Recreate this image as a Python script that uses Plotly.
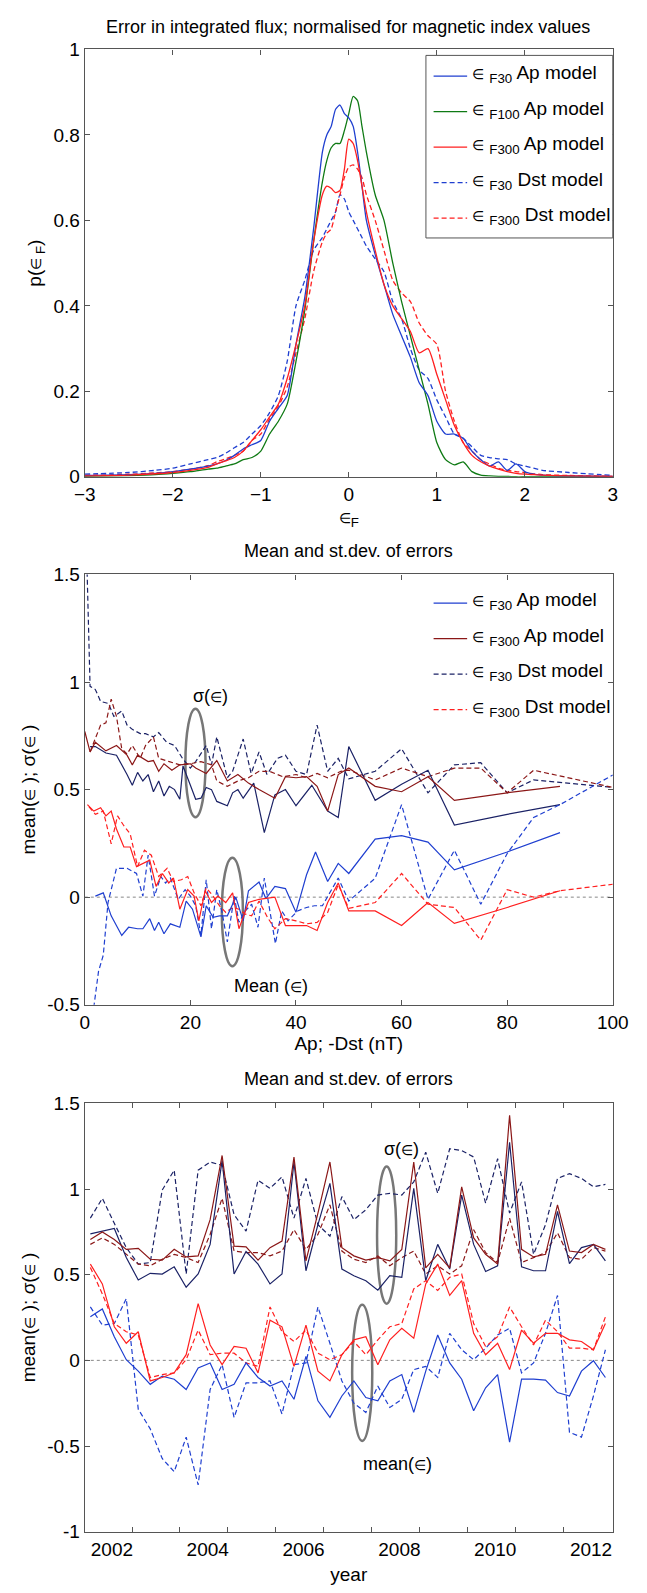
import plotly.graph_objects as go

W, H = 647, 1593
FONT = "Liberation Sans, Arial, Helvetica, sans-serif"

def px(x):
    return x / W

def py(y):
    return 1 - y / H

# ---------------- colours ----------------
BLUE = "#1f3fd0"
NAVY = "#1b2266"
DRED = "#8b1717"
RED = "#ff1f1f"
GREEN = "#0f7a14"
GRAY = "#777777"
AX = "#555555"

EPS = "<span style='font-size:14px'>∈</span>"

# ---------------- panel 1 data (pdf of errors) ----------------
eps_grid = [-3.0, -2.5, -2.2, -2.0, -1.8, -1.6, -1.5, -1.4, -1.3, -1.2, -1.1, -1.0, -0.9, -0.8,
            -0.7, -0.6, -0.5, -0.4, -0.3, -0.25, -0.2, -0.15, -0.1, -0.05, 0.0, 0.05, 0.1, 0.15,
            0.2, 0.3, 0.4, 0.5, 0.6, 0.7, 0.8, 0.9, 1.0, 1.1, 1.2, 1.3, 1.4, 1.5, 1.6, 1.7, 1.8,
            1.9, 2.0, 2.1, 2.2, 2.5, 3.0]
p_f30_ap = [0.003, 0.005, 0.008, 0.012, 0.018, 0.025, 0.03, 0.038, 0.05, 0.065, 0.075, 0.085, 0.13, 0.16,
            0.19, 0.31, 0.42, 0.58, 0.76, 0.80, 0.82, 0.86, 0.87, 0.85, 0.84, 0.82, 0.76, 0.68,
            0.60, 0.52, 0.45, 0.38, 0.33, 0.28, 0.22, 0.19, 0.13, 0.10, 0.10, 0.09, 0.06, 0.04, 0.025, 0.035, 0.015,
            0.03, 0.012, 0.006, 0.004, 0.002, 0.001]
p_f100_ap = [0.001, 0.003, 0.005, 0.008, 0.012, 0.018, 0.02, 0.025, 0.03, 0.04, 0.045, 0.06, 0.10, 0.13,
             0.17, 0.27, 0.39, 0.55, 0.69, 0.74, 0.77, 0.78, 0.78, 0.81, 0.85, 0.89, 0.88, 0.82,
             0.76, 0.66, 0.60, 0.50, 0.41, 0.33, 0.25, 0.17, 0.08, 0.04, 0.028, 0.035, 0.012, 0.004, 0.002, 0.001, 0.001,
             0.0, 0.0, 0.0, 0.0, 0.0, 0.0]
p_f300_ap = [0.002, 0.004, 0.007, 0.01, 0.015, 0.022, 0.03, 0.037, 0.045, 0.06, 0.085, 0.11, 0.14, 0.17,
             0.23, 0.31, 0.40, 0.55, 0.66, 0.68, 0.675, 0.665, 0.67, 0.72, 0.79, 0.78, 0.74, 0.68,
             0.62, 0.53, 0.45, 0.40, 0.37, 0.34, 0.29, 0.30, 0.24, 0.18, 0.12, 0.08, 0.05, 0.035, 0.025, 0.018, 0.012,
             0.008, 0.006, 0.005, 0.004, 0.002, 0.001]
p_f30_dst = [0.006, 0.01, 0.015, 0.02, 0.03, 0.04, 0.045, 0.055, 0.068, 0.08, 0.10, 0.12, 0.15, 0.19,
             0.27, 0.40, 0.46, 0.53, 0.56, 0.58, 0.60, 0.62, 0.66, 0.65, 0.62, 0.60, 0.58, 0.56,
             0.54, 0.51, 0.48, 0.41, 0.37, 0.30, 0.25, 0.23, 0.18, 0.14, 0.10, 0.09, 0.07, 0.05, 0.045, 0.042, 0.04,
             0.03, 0.025, 0.02, 0.015, 0.01, 0.003]
p_f300_dst = [0.003, 0.006, 0.009, 0.012, 0.018, 0.026, 0.035, 0.042, 0.05, 0.06, 0.085, 0.10, 0.135, 0.165,
              0.21, 0.29, 0.37, 0.48, 0.55, 0.57, 0.58, 0.62, 0.66, 0.70, 0.725, 0.73, 0.72, 0.70,
              0.66, 0.60, 0.53, 0.46, 0.43, 0.41, 0.36, 0.33, 0.31, 0.20, 0.13, 0.08, 0.06, 0.04, 0.03, 0.02, 0.015,
              0.012, 0.01, 0.007, 0.005, 0.003, 0.001]

# ---------------- panel 2 data (vs Ap / -Dst) ----------------
x_sd30_ap = [1, 2, 4, 6, 8, 9, 10, 11, 12, 13, 14, 15, 16, 17, 18, 18.6, 20, 21, 22, 23, 24, 25, 27, 28, 29, 30,
             32, 34, 36, 38, 40, 42, 43, 46, 48, 50, 55, 60, 65, 70, 80, 90]
sd30_ap = [0.70, 0.70, 0.67, 0.66, 0.57, 0.52, 0.58, 0.54, 0.57, 0.49, 0.54, 0.47, 0.515, 0.50, 0.455, 0.61,
           0.52, 0.455, 0.46, 0.51, 0.50, 0.445, 0.425, 0.485, 0.50, 0.46, 0.53, 0.30, 0.475, 0.50, 0.425, 0.49,
           0.52, 0.40, 0.37, 0.70, 0.45, 0.525, 0.59, 0.335, 0.385, 0.43]
x_sd300_ap = [0, 1, 2, 4, 6, 8, 9, 10, 12, 13, 14, 15, 16.5, 18, 20, 21, 23, 25, 27, 29, 31, 33, 36, 38, 40,
              42, 44, 46, 48, 50, 55, 60, 65, 70, 80, 90]
sd300_ap = [0.77, 0.675, 0.72, 0.68, 0.705, 0.66, 0.615, 0.66, 0.63, 0.635, 0.585, 0.62, 0.59, 0.615, 0.62,
            0.60, 0.575, 0.635, 0.54, 0.57, 0.53, 0.50, 0.46, 0.56, 0.555, 0.56, 0.515, 0.40, 0.57, 0.60, 0.515,
            0.49, 0.56, 0.45, 0.485, 0.515]
x_sd30_dst = [0.4, 1, 2, 3, 4.5, 5.5, 7, 8, 9, 10.5, 11.5, 13, 14, 15.5, 17, 18.5, 20, 21, 23, 24, 25, 27, 28,
              30, 31.5, 33, 34.5, 36.5, 38, 40, 42, 44, 46, 48, 50, 55, 60, 65, 70, 75, 80, 85, 100]
sd30_dst = [1.55, 0.98, 0.965, 0.91, 0.90, 0.84, 0.865, 0.80, 0.78, 0.76, 0.76, 0.745, 0.765, 0.72, 0.705,
            0.645, 0.60, 0.63, 0.705, 0.615, 0.745, 0.555, 0.585, 0.735, 0.575, 0.675, 0.57, 0.645, 0.66, 0.585,
            0.57, 0.80, 0.585, 0.645, 0.55, 0.585, 0.69, 0.485, 0.615, 0.625, 0.485, 0.545, 0.51]
x_sd300_dst = [1, 2, 3, 4, 5, 6, 7, 8, 9, 10.5, 11.5, 13, 14, 16, 18, 20, 22, 24, 25, 27, 29, 31, 33, 35, 37.5,
               40, 42, 44, 46, 48.5, 50, 55, 60, 65, 70, 75, 80, 85, 100]
sd300_dst = [0.675, 0.735, 0.80, 0.81, 0.92, 0.84, 0.69, 0.665, 0.705, 0.645, 0.705, 0.745, 0.645, 0.63, 0.615,
             0.62, 0.63, 0.615, 0.54, 0.515, 0.54, 0.555, 0.585, 0.585, 0.56, 0.57, 0.555, 0.575, 0.555, 0.585,
             0.59, 0.545, 0.60, 0.56, 0.60, 0.60, 0.485, 0.59, 0.51]
x_mn30_ap = [2, 3.5, 5, 7, 8.3, 10, 11, 12.3, 13.2, 14, 15, 16.2, 18, 19.2, 20.4, 22, 23, 24.3, 25.5, 27, 28.6,
             30, 31, 33, 34.3, 36, 38, 40, 42, 43.7, 46, 48, 50, 55, 60, 65, 70, 80, 90]
mn30_ap = [0.005, 0.02, -0.087, -0.178, -0.14, -0.147, -0.147, -0.10, -0.155, -0.117, -0.17, -0.124, -0.14,
           -0.018, -0.056, -0.185, -0.04, -0.094, -0.087, -0.087, 0.0, -0.11, 0.03, 0.07, -0.007, 0.05, 0.04,
           -0.07, 0.104, 0.21, 0.073, 0.157, 0.11, 0.27, 0.286, 0.256, 0.127, 0.21, 0.30]
x_mn30_dst = [1.5, 2.6, 3.5, 4.4, 6, 8, 9.8, 11, 12, 13.2, 14.4, 15.3, 16.2, 17.7, 19, 20, 21, 22, 23, 24, 25,
              26, 27, 28.3, 29.2, 30.4, 31.6, 32.8, 34, 35.2, 36.1, 37.3, 38.5, 40.3, 42, 43.5, 45, 48, 50, 55,
              60, 65, 70, 75, 80, 85, 90, 100]
mn30_dst = [-0.55, -0.345, -0.27, -0.025, 0.134, 0.134, 0.11, 0.005, 0.195, 0.005, 0.096, 0.066, 0.089, -0.01,
            0.035, 0.005, -0.04, -0.178, 0.081, -0.147, 0.035, -0.071, -0.208, 0.005, -0.117, -0.064, -0.033,
            -0.14, 0.089, -0.094, -0.216, -0.064, -0.11, -0.064, -0.048, -0.04, -0.04, 0.089, -0.018, 0.088,
            0.43, -0.01, 0.218, -0.033, 0.203, 0.37, 0.43, 0.568]
x_mn300_ap = [0.5, 1.7, 3, 4, 5, 6, 7.4, 8.6, 9.8, 11, 12.3, 13.5, 14.7, 15.9, 16.8, 18, 19.5, 20.7, 21.6, 22.8,
              24, 25.2, 26.7, 28, 29.2, 31, 33, 36, 38, 40, 42, 44, 46, 48, 50, 55, 60, 65, 70, 80, 90]
mn300_ap = [0.43, 0.40, 0.416, 0.378, 0.40, 0.317, 0.233, 0.233, 0.142, 0.157, 0.172, 0.05, 0.11, 0.066, 0.089,
            -0.056, 0.035, 0.005, -0.11, 0.03, -0.025, 0.005, -0.025, 0.02, -0.147, -0.025, -0.01, 0.0, -0.132,
            -0.132, -0.132, -0.155, -0.025, 0.066, -0.064, -0.064, -0.132, -0.025, -0.122, -0.048, 0.03]
x_mn300_dst = [0.8, 2, 3.5, 5, 6.2, 7.4, 8.6, 10, 11.3, 12.6, 14, 15.6, 16.8, 18.3, 19.5, 20.7, 22, 23, 24.3,
               25.5, 26.7, 28, 29.2, 30.4, 31.6, 33, 34.6, 36, 38, 40, 42, 44, 46, 48, 50, 55, 60, 65, 70, 75,
               80, 85, 90, 100]
mn300_dst = [0.42, 0.385, 0.40, 0.248, 0.378, 0.332, 0.294, 0.142, 0.218, 0.195, 0.096, 0.134, 0.073, 0.081,
             0.096, 0.02, -0.04, 0.043, 0.005, -0.04, -0.071, -0.048, -0.056, -0.079, -0.087, -0.018, -0.094,
             -0.147, -0.10, -0.11, -0.124, -0.117, -0.071, 0.058, -0.052, -0.025, 0.11, -0.033, -0.048, -0.20,
             0.035, 0.0, 0.03, 0.06]

# ---------------- panel 3 data (vs year, quarterly) ----------------
years = [2001.55, 2001.8, 2002.05, 2002.3, 2002.55, 2002.8, 2003.05, 2003.3, 2003.55, 2003.8, 2004.05, 2004.3,
         2004.55, 2004.8, 2005.05, 2005.3, 2005.55, 2005.8, 2006.05, 2006.3, 2006.55, 2006.8, 2007.05, 2007.3,
         2007.55, 2007.8, 2008.05, 2008.3, 2008.55, 2008.8, 2009.05, 2009.3, 2009.55, 2009.8, 2010.05, 2010.3,
         2010.55, 2010.8, 2011.05, 2011.3, 2011.55, 2011.8, 2012.05, 2012.3]
y_sd30_ap = [0.738, 0.754, 0.77, 0.60, 0.469, 0.508, 0.504, 0.546, 0.427, 0.504, 0.677, 1.167, 0.504, 0.635,
             0.562, 0.446, 0.504, 1.158, 0.523, 0.792, 1.033, 0.533, 0.494, 0.465, 0.41, 0.494, 0.485, 1.004,
             0.465, 0.677, 0.533, 0.965, 0.677, 0.519, 0.552, 1.273, 0.546, 0.523, 0.523, 0.869, 0.565, 0.658,
             0.677, 0.581]
y_sd300_ap = [0.706, 0.75, 0.706, 0.648, 0.654, 0.59, 0.585, 0.648, 0.604, 0.61, 0.821, 1.196, 0.667, 0.662,
              0.585, 0.658, 0.696, 1.187, 0.581, 0.86, 1.158, 0.658, 0.61, 0.585, 0.60, 0.581, 0.648, 1.158,
              0.54, 0.619, 0.54, 1.013, 0.715, 0.619, 0.562, 1.43, 0.648, 0.604, 0.619, 0.908, 0.638, 0.629,
              0.677, 0.648]
y_sd30_dst = [0.83, 0.946, 0.80, 0.658, 0.562, 0.571, 0.994, 1.11, 0.504, 1.11, 1.158, 1.138, 0.85, 0.754,
              1.052, 1.004, 1.071, 0.83, 1.062, 0.792, 0.725, 0.956, 0.821, 0.879, 0.965, 0.975, 0.965, 1.042,
              1.215, 0.975, 1.235, 1.225, 1.187, 0.917, 1.177, 0.86, 1.042, 0.619, 0.792, 1.062, 1.09, 1.062,
              1.013, 1.027]
y_sd300_dst = [0.677, 0.715, 0.677, 0.619, 0.562, 0.552, 0.59, 0.619, 0.60, 0.571, 0.735, 0.946, 0.638, 0.629,
               0.629, 0.61, 0.638, 0.763, 0.648, 0.735, 0.908, 0.638, 0.59, 0.571, 0.61, 0.552, 0.60, 0.638,
               0.504, 0.552, 0.504, 0.552, 0.763, 0.629, 0.571, 0.83, 0.571, 0.60, 0.629, 0.744, 0.60, 0.59,
               0.658, 0.638]
y_mn30_ap = [0.254, 0.30, 0.138, 0.004, -0.063, -0.14, -0.092, -0.11, -0.17, -0.044, -0.015, -0.17, -0.14,
             -0.015, -0.10, -0.15, -0.12, -0.227, 0.023, -0.236, -0.333, -0.208, -0.12, -0.217, -0.236, -0.12,
             -0.083, -0.304, -0.063, 0.148, -0.015, -0.11, -0.294, -0.16, -0.083, -0.477, -0.11, -0.11, -0.115,
             -0.188, -0.208, -0.063, -0.002, -0.10]
y_mn300_ap = [0.562, 0.446, 0.196, 0.10, 0.167, -0.12, -0.10, -0.073, 0.033, 0.331, 0.09, -0.025, 0.081, 0.071,
              -0.073, 0.235, 0.196, -0.035, 0.206, -0.063, -0.12, 0.033, 0.12, 0.138, -0.025, 0.12, 0.187, 0.129,
              0.446, 0.562, 0.379, 0.465, 0.158, 0.033, 0.10, -0.054, 0.177, 0.10, 0.158, 0.158, 0.12, 0.11,
              0.062, 0.215]
y_mn30_dst = [0.312, 0.206, 0.215, 0.36, -0.285, -0.40, -0.573, -0.65, -0.448, -0.727, -0.17, -0.025, -0.333,
              -0.131, -0.131, -0.12, -0.313, -0.025, -0.015, 0.312, 0.10, -0.12, -0.25, -0.304, -0.15, -0.275,
              -0.227, -0.054, -0.035, -0.10, 0.158, 0.062, 0.004, 0.071, 0.148, 0.187, -0.073, -0.015, 0.158,
              0.379, -0.42, -0.448, -0.208, 0.062]
y_mn300_dst = [0.542, 0.388, 0.215, 0.167, 0.148, -0.10, -0.083, -0.073, 0.004, 0.177, 0.033, 0.042, 0.042,
               -0.015, -0.035, 0.312, 0.167, 0.11, 0.177, 0.042, 0.004, 0.033, 0.11, 0.033, 0.12, 0.196, 0.215,
               0.417, 0.465, 0.408, 0.485, 0.504, 0.215, 0.081, 0.138, 0.312, 0.196, 0.09, 0.235, 0.167, 0.071,
               0.071, 0.062, 0.254]

year_labels = [2002, 2004, 2006, 2008, 2010, 2012]
year_ticks = [2002.42, 2003.42, 2004.42, 2005.42, 2006.42, 2007.42, 2008.42, 2009.42, 2010.42, 2011.42]

DASH = "5px,3px"

fig = go.Figure()

def add(x, y, color, dash=None, ax="", width=1.2, smooth=False):
    line = dict(color=color, width=width)
    if dash:
        line["dash"] = dash
    if smooth:
        line["shape"] = "spline"
        line["smoothing"] = 0.6
    fig.add_trace(go.Scatter(x=x, y=y, mode="lines", line=line, showlegend=False,
                             xaxis="x" + ax, yaxis="y" + ax, hoverinfo="skip"))

# panel 1
add(eps_grid, p_f30_dst, BLUE, DASH, "", 1.3, True)
add(eps_grid, p_f300_dst, RED, DASH, "", 1.3, True)
add(eps_grid, p_f100_ap, GREEN, None, "", 1.3, True)
add(eps_grid, p_f30_ap, BLUE, None, "", 1.3, True)
add(eps_grid, p_f300_ap, RED, None, "", 1.3, True)

# panel 2
add(x_sd30_dst, sd30_dst, NAVY, DASH, "2")
add(x_sd300_dst, sd300_dst, DRED, DASH, "2")
add(x_sd30_ap, sd30_ap, NAVY, None, "2")
add(x_sd300_ap, sd300_ap, DRED, None, "2")
add(x_mn30_dst, mn30_dst, BLUE, DASH, "2")
add(x_mn300_dst, mn300_dst, RED, DASH, "2")
add(x_mn30_ap, mn30_ap, BLUE, None, "2")
add(x_mn300_ap, mn300_ap, RED, None, "2")

# panel 3
add(years, y_sd30_dst, NAVY, DASH, "3")
add(years, y_sd300_dst, DRED, DASH, "3")
add(years, y_sd30_ap, NAVY, None, "3")
add(years, y_sd300_ap, DRED, None, "3")
add(years, y_mn30_dst, BLUE, DASH, "3")
add(years, y_mn300_dst, RED, DASH, "3")
add(years, y_mn30_ap, BLUE, None, "3")
add(years, y_mn300_ap, RED, None, "3")

XDOM = [px(77), px(628)]
TICKFONT = dict(family=FONT, size=19, color="black")
TITLEFONT = dict(family=FONT, size=19, color="black")

def axis(**kw):
    base = dict(showline=True, linecolor=AX, linewidth=1.2, mirror="ticks", ticks="inside", ticklen=5,
                tickcolor=AX, tickwidth=1, showgrid=False, zeroline=False, tickfont=TICKFONT, fixedrange=True)
    base.update(kw)
    return base

layout = dict(
    width=W, height=H, margin=dict(l=0, r=0, t=0, b=0),
    paper_bgcolor="white", plot_bgcolor="white", showlegend=False,
    font=dict(family=FONT, size=18, color="black"),
    xaxis=axis(domain=XDOM, anchor="y", range=[-3, 3], tickvals=[-3, -2, -1, 0, 1, 2, 3],
               title=dict(text=EPS + "<sub>F</sub>", font=TITLEFONT, standoff=6)),
    yaxis=axis(domain=[py(473), py(40)], anchor="x", range=[0, 1],
               tickvals=[0, 0.2, 0.4, 0.6, 0.8, 1], ticktext=["0", "0.2", "0.4", "0.6", "0.8", "1"],
               title=dict(text="p(" + EPS + "<sub> F</sub>)", font=TITLEFONT, standoff=6)),
    xaxis2=axis(domain=XDOM, anchor="y2", range=[0, 100], tickvals=[0, 20, 40, 60, 80, 100],
                title=dict(text="Ap; -Dst (nT)", font=TITLEFONT, standoff=4)),
    yaxis2=axis(domain=[py(1008), py(572)], anchor="x2", range=[-0.5, 1.5],
                tickvals=[-0.5, 0, 0.5, 1, 1.5], ticktext=["-0.5", "0", "0.5", "1", "1.5"],
                title=dict(text="mean(" + EPS + " ); σ(" + EPS + " )", font=TITLEFONT, standoff=6)),
    xaxis3=axis(domain=XDOM, anchor="y3", range=[2001.434, 2012.454], tickvals=year_labels,
                ticktext=[str(v) for v in year_labels], ticks="",
                minor=dict(tickmode="array", tickvals=year_ticks, ticks="inside", ticklen=5, tickcolor=AX),
                title=dict(text="year", font=TITLEFONT, standoff=9)),
    yaxis3=axis(domain=[py(1542), py(1108)], anchor="x3", range=[-1, 1.5],
                tickvals=[-1, -0.5, 0, 0.5, 1, 1.5], ticktext=["-1", "-0.5", "0", "0.5", "1", "1.5"],
                title=dict(text="mean(" + EPS + " ); σ(" + EPS + " )", font=TITLEFONT, standoff=6)),
)

shapes = []
annotations = []

def text(x, y, s, size=18, angle=0, xanchor="center", yanchor="middle"):
    annotations.append(dict(x=px(x), y=py(y), xref="paper", yref="paper", text=s, showarrow=False,
                            font=dict(family=FONT, size=size, color="black"), textangle=angle,
                            xanchor=xanchor, yanchor=yanchor))

# titles
text(352, 17, "Error in integrated flux; normalised for magnetic index values", 18)
text(352, 548, "Mean and st.dev. of errors", 18)
text(352, 1083, "Mean and st.dev. of errors", 18)

# zero reference lines
for ax in ["2", "3"]:
    shapes.append(dict(type="line", xref="x" + ax + " domain", yref="y" + ax, x0=0, x1=1, y0=0, y1=0,
                       line=dict(color="#888888", width=1, dash="dot"), layer="below"))

# ellipses
for (x0, x1, y0, y1) in [(182, 203, 708, 818), (220, 242, 859, 969), (382, 402, 1172, 1311), (356, 377, 1312, 1450)]:
    shapes.append(dict(type="circle", xref="paper", yref="paper", x0=px(x0), x1=px(x1), y0=py(y1), y1=py(y0),
                       line=dict(color=GRAY, width=2.5), layer="below"))
text(208, 695, "σ(" + EPS + ")", 18)
text(271, 989, "Mean (" + EPS + ")", 18)
text(408, 1154, "σ(" + EPS + ")", 18)
text(403, 1473, "mean(" + EPS + ")", 18)

# legend panel 1
shapes.append(dict(type="rect", xref="paper", yref="paper", x0=px(433), x1=px(628), y0=py(231), y1=py(46),
                   line=dict(color=AX, width=1), fillcolor="white", layer="above"))
leg1 = [(BLUE, None, "F30", "Ap model"), (GREEN, None, "F100", "Ap model"), (RED, None, "F300", "Ap model"),
        (BLUE, "dash", "F30", "Dst model"), (RED, "dash", "F300", "Dst model")]
for i, (c, d, sub, lab) in enumerate(leg1):
    yy = 62 + 36 * i
    ln = dict(color=c, width=1.3)
    if d:
        ln["dash"] = DASH
    shapes.append(dict(type="line", xref="paper", yref="paper", x0=px(441), x1=px(476), y0=py(yy + 5),
                       y1=py(yy + 5), line=ln, layer="above"))
    text(479, yy + 3, EPS + " <sub>" + sub + "</sub> " + lab, 19, xanchor="left")

leg2 = [(BLUE, None, "F30", "Ap model"), (DRED, None, "F300", "Ap model"),
        (NAVY, "dash", "F30", "Dst model"), (RED, "dash", "F300", "Dst model")]
for i, (c, d, sub, lab) in enumerate(leg2):
    yy = 596 + 36 * i
    ln = dict(color=c, width=1.3)
    if d:
        ln["dash"] = DASH
    shapes.append(dict(type="line", xref="paper", yref="paper", x0=px(441), x1=px(476), y0=py(yy + 5),
                       y1=py(yy + 5), line=ln, layer="above"))
    text(479, yy + 3, EPS + " <sub>" + sub + "</sub> " + lab, 19, xanchor="left")

layout["shapes"] = shapes
layout["annotations"] = annotations
fig.update_layout(**layout)
fig.write_html("out.html")
